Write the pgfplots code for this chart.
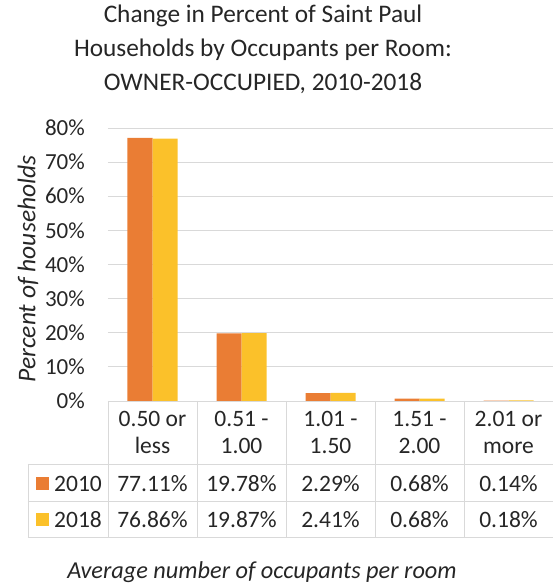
\documentclass[border=0pt]{standalone}
\usepackage{pgfplots}
\pgfplotsset{compat=1.18}
\usepackage{fontspec}
\setmainfont{Carlito}
\definecolor{c2010}{RGB}{234,125,52}
\definecolor{c2018}{RGB}{251,193,42}
\definecolor{gridc}{RGB}{217,217,217}
\definecolor{txt}{RGB}{38,38,38}
\newcommand{\tfont}{\fontsize{23.5bp}{26bp}\selectfont}
\newcommand{\kfont}{\fontsize{23bp}{26bp}\selectfont}
\begin{document}
\begin{tikzpicture}[x=1bp,y=1bp]
\begin{axis}[
 at={(0,0)}, anchor=south west,
 scale only axis, width=445bp, height=273bp,
 xmin=-0.5, xmax=4.5, ymin=0, ymax=80,
 ybar=0pt, bar width=25bp,
 axis line style={draw=none}, tick style={draw=none},
 xtick=\empty,
 ytick={0,10,...,80},
 yticklabel={\pgfmathprintnumber{\tick}\%},
 /pgf/number format/assume math mode=true,
 yticklabel style={font=\kfont, text=txt, anchor=east, inner sep=0pt, xshift=-23bp},
 ymajorgrids, grid style={gridc, line width=0.8bp},
 clip=false,
]
\addplot[fill=c2010, draw=none] coordinates {(0,77.11) (1,19.78) (2,2.29) (3,0.68) (4,0.14)};
\addplot[fill=c2018, draw=none] coordinates {(0,76.86) (1,19.87) (2,2.41) (3,0.68) (4,0.18)};
\end{axis}
% data table
\begin{scope}[gridc, line width=0.8bp]
\draw (0,0) -- (445,0);
\draw (-80,-63) -- (445,-63);
\draw (-80,-100) -- (445,-100);
\draw (-80,-136) -- (445,-136);
\foreach \x in {0,89,178,267,356,445} \draw (\x,0) -- (\x,-136);
\draw (-80,-63) -- (-80,-136);
\end{scope}
\begin{scope}[every node/.style={font=\tfont, text=txt, inner sep=0pt}]
\foreach \x/\a/\b in {44.5/0.50 or/less, 133.5/0.51 -/1.00, 222.5/1.01 -/1.50, 311.5/1.51 -/2.00, 400.5/2.01 or/more} {
  \node[anchor=base] at (\x,-26) {\a};
  \node[anchor=base] at (\x,-53) {\b};
}
\foreach \x/\a/\b in {44.5/77.11\%/76.86\%, 133.5/19.78\%/19.87\%, 222.5/2.29\%/2.41\%, 311.5/0.68\%/0.68\%, 400.5/0.14\%/0.18\%} {
  \node[anchor=base] at (\x,-90) {\a};
  \node[anchor=base] at (\x,-126) {\b};
}
\fill[c2010] (-72,-89) rectangle (-59,-76);
\fill[c2018] (-72,-125) rectangle (-59,-112);
\node[anchor=base west] at (-54,-90) {2010};
\node[anchor=base west] at (-54,-126) {2018};
\node[anchor=center, rotate=90, font=\fontsize{25.5bp}{28bp}\selectfont\itshape] at (-80,132) {Percent of households};
\node[anchor=base, font=\fontsize{24.3bp}{28bp}\selectfont\itshape] at (154,-177) {Average number of occupants per room};
\node[anchor=base, font=\fontsize{25.3bp}{30bp}\selectfont] at (155,378) {Change in Percent of Saint Paul};
\node[anchor=base, font=\fontsize{25.3bp}{30bp}\selectfont] at (155,344) {Households by Occupants per Room:};
\node[anchor=base, font=\fontsize{25.3bp}{30bp}\selectfont] at (155,310) {OWNER-OCCUPIED, 2010-2018};
\end{scope}
\pgfresetboundingbox
\path (-108,-187) rectangle (445,401);
\end{tikzpicture}
\end{document}
